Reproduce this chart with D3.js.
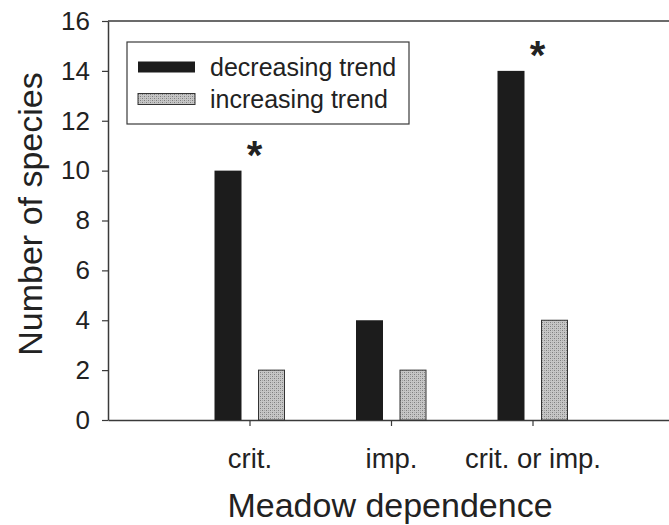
<!DOCTYPE html>
<html>
<head>
<meta charset="utf-8">
<script src="https://cdn.jsdelivr.net/npm/d3@7"></script>
<style>
  body { margin: 0; background: #fff; }
  svg { display: block; font-family: "Liberation Sans", Arial, sans-serif; }
</style>
</head>
<body>
<svg id="chart" width="669" height="525"></svg>
<script>

// categories on the x axis (positions 1..3 on a 0..4 scale)
var categories = ['crit.', 'imp.', 'crit. or imp.'];

// number of species per series
var decreasing = [10, 4, 14];
var increasing = [2, 2, 4];

// which categories get the significance star
var significant = [true, false, true];

var yTicks = [0, 2, 4, 6, 8, 10, 12, 14, 16];

var seriesNames = ['decreasing trend', 'increasing trend'];

var svg = d3.select('#chart');

// NOTE: don't call these top/left at global scope, window.top is read only
var plotLeft = 108, plotRight = 674, plotTop = 21, plotBottom = 420;

var x = d3.scaleLinear().domain([0, 4]).range([plotLeft, plotRight]);
var y = d3.scaleLinear().domain([0, 16]).range([plotBottom, plotTop]);

var barWidth = 27;
var axisColor = '#3a3a3a';
var textColor = '#222';

// stipple pattern for the light bars
var defs = svg.append('defs');
var pat = defs.append('pattern')
  .attr('id', 'stipple')
  .attr('width', 4).attr('height', 4)
  .attr('patternUnits', 'userSpaceOnUse');
pat.append('rect').attr('width', 4).attr('height', 4).attr('fill', '#c6c6c6');
pat.append('rect').attr('width', 1).attr('height', 1).attr('fill', '#7e7e7e');
pat.append('rect').attr('x', 2).attr('y', 2).attr('width', 1).attr('height', 1).attr('fill', '#7e7e7e');
pat.append('rect').attr('x', 2).attr('y', 0).attr('width', 1).attr('height', 1).attr('fill', '#a4a4a4');
pat.append('rect').attr('x', 0).attr('y', 2).attr('width', 1).attr('height', 1).attr('fill', '#a4a4a4');

// top frame line
svg.append('line')
  .attr('x1', plotLeft).attr('x2', 669)
  .attr('y1', plotTop).attr('y2', plotTop)
  .attr('stroke', axisColor).attr('stroke-width', 1.5);

// y axis
var yAxis = svg.append('g')
  .attr('transform', 'translate(' + plotLeft + ',0)')
  .call(d3.axisLeft(y).tickValues(yTicks).tickSize(6).tickSizeOuter(0).tickPadding(12));

// x axis
var xAxis = svg.append('g')
  .attr('transform', 'translate(0,' + plotBottom + ')')
  .call(d3.axisBottom(x).tickValues([1, 2, 3]).tickSize(6).tickSizeOuter(0).tickPadding(22)
    .tickFormat(function(d) { return categories[d - 1]; }));

[yAxis, xAxis].forEach(function(ax) {
  ax.select('.domain').attr('stroke', axisColor).attr('stroke-width', 1.5);
  ax.selectAll('.tick line').attr('stroke', axisColor).attr('stroke-width', 1.2);
  ax.selectAll('.tick text')
    .attr('fill', textColor)
    .style('font-size', '26px')
    .style('font-family', '"Liberation Sans", Arial, sans-serif');
});
xAxis.selectAll('.tick text').style('font-size', '27.5px');

// bars
var barData = categories.map(function(c, i) {
  return { pos: i + 1, dec: decreasing[i], inc: increasing[i], star: significant[i] };
});

var groups = svg.selectAll('g.cat')
  .data(barData)
  .enter().append('g')
  .attr('class', 'cat');

groups.append('rect')
  .attr('x', function(d) { return x(d.pos) - 35; })
  .attr('y', function(d) { return y(d.dec); })
  .attr('width', barWidth)
  .attr('height', function(d) { return y(0) - y(d.dec); })
  .attr('fill', '#1c1c1c');

groups.append('rect')
  .attr('x', function(d) { return x(d.pos) + 9; })
  .attr('y', function(d) { return y(d.inc); })
  .attr('width', barWidth - 1)
  .attr('height', function(d) { return y(0) - y(d.inc); })
  .attr('fill', 'url(#stipple)')
  .attr('stroke', '#333').attr('stroke-width', 1);

// significance stars above the decreasing bars
groups.filter(function(d) { return d.star; })
  .append('text')
  .attr('x', function(d) { return x(d.pos) + 5; })
  .attr('y', function(d) { return y(d.dec) - 2; })
  .attr('text-anchor', 'middle')
  .attr('fill', textColor)
  .style('font-size', '40px')
  .style('font-weight', 'bold')
  .text('*');

// legend
var legend = svg.append('g');
legend.append('rect')
  .attr('x', 127).attr('y', 42)
  .attr('width', 282).attr('height', 82)
  .attr('fill', 'none')
  .attr('stroke', axisColor).attr('stroke-width', 1.2);

var legendFill = ['#1c1c1c', 'url(#stipple)'];
seriesNames.forEach(function(name, i) {
  var cy = 67 + i * 32;
  legend.append('rect')
    .attr('x', 138).attr('y', cy - 5.5)
    .attr('width', 57).attr('height', 11)
    .attr('fill', legendFill[i])
    .attr('stroke', i === 1 ? '#333' : 'none');
  legend.append('text')
    .attr('x', 210).attr('y', cy + 9)
    .attr('fill', textColor)
    .style('font-size', '25px')
    .text(name);
});

// axis titles
svg.append('text')
  .attr('x', 390).attr('y', 517)
  .attr('text-anchor', 'middle')
  .attr('fill', textColor)
  .style('font-size', '34px')
  .text('Meadow dependence');

svg.append('text')
  .attr('transform', 'translate(42,214) rotate(-90)')
  .attr('text-anchor', 'middle')
  .attr('fill', textColor)
  .style('font-size', '34px')
  .text('Number of species');

</script>
</body>
</html>
